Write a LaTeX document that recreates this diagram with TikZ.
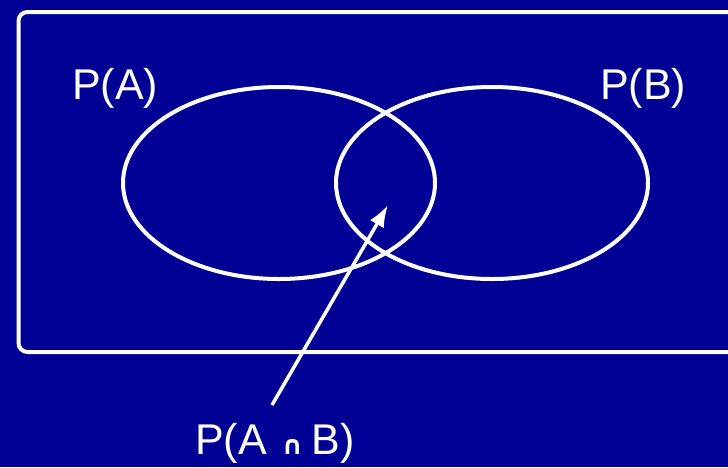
\documentclass[tikz,border=0pt]{standalone}
\usepackage{fontspec}
\setmainfont{Liberation Sans}
\newfontfamily\symfont{DejaVu Sans}
\usetikzlibrary{shapes.geometric,arrows.meta}
\definecolor{slidebg}{RGB}{0,0,148}
\begin{document}
\begin{tikzpicture}[x=1pt, y=-1pt,
  every node/.style={text=white, font=\fontsize{43}{50}\selectfont},
  setbox/.style={draw=white, line width=4pt, ellipse, minimum width=312pt, minimum height=192pt, inner sep=0pt},
  pointer/.style={draw=white, line width=3.5pt, -{Latex[length=22pt,width=16pt]}}]
\useasboundingbox (0,0) rectangle (728,467);
\clip (0,0) rectangle (728,467);
\fill[slidebg] (0,0) rectangle (728,467);
% universe
\draw[white, line width=4pt, rounded corners=9pt] (18.5,12) rectangle (760,352);
% the two events
\node[setbox] (ea) at (279,183) {};
\node[setbox] (eb) at (492,183) {};
\node (pa) at (115,88) {P(A)};
\node (pb) at (643,88) {P(B)};
\node (pab) at (275,443) {P(A\kern15pt{\symfont\fontsize{26}{26}\selectfont\bfseries ∩}\kern9pt B)};
% pointer into the overlap
\coordinate (tail) at (272,405);
\coordinate (tip) at (388,205);
\draw[pointer] (tail) -- (tip);
\end{tikzpicture}
\end{document}
